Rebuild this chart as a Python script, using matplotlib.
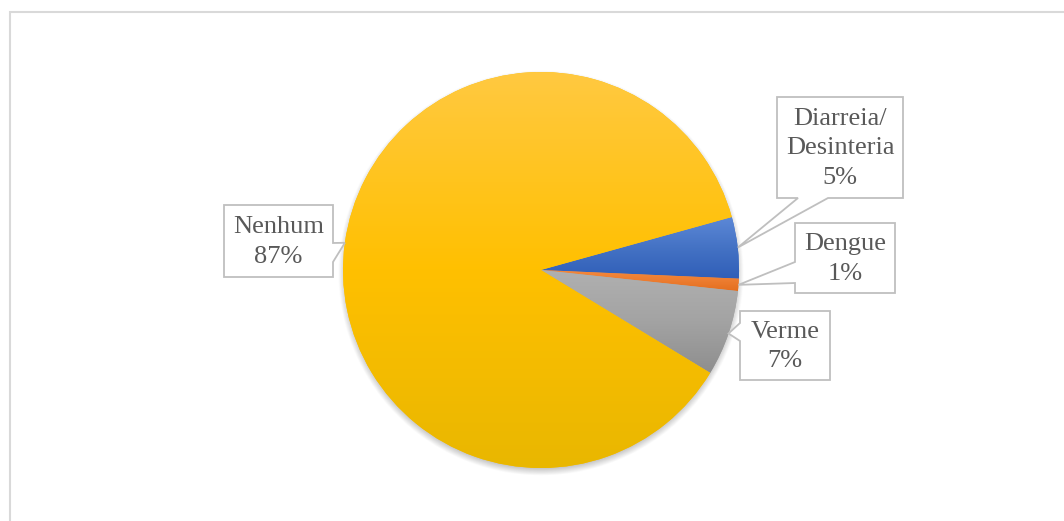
import numpy as np
import matplotlib
matplotlib.use("Agg")
import matplotlib.pyplot as plt
from matplotlib.patches import Polygon, Rectangle
from matplotlib.colors import to_rgb

# ---- data ----
categories = ["Diarreia/\nDesinteria", "Dengue", "Verme", "Nenhum"]
values = [5, 1, 7, 87]
pct_labels = ["5%", "1%", "7%", "87%"]

# ---- styling ----
colors_top = ["#5C88D7", "#F58A3C", "#B0B0B0", "#FFC941"]
colors_mid = ["#4472C4", "#ED7D31", "#A3A3A3", "#FFC000"]
colors_bot = ["#2F5EB8", "#E46F1F", "#8E8E8E", "#E9B700"]

W, H = 1064, 521
fig = plt.figure(figsize=(W / 100, H / 100), dpi=100)
ax = fig.add_axes([0, 0, 1, 1])

def iy(y):
    return H - y

cx, cy = 541, iy(270)
R = 198

# soft shadow
gx = np.linspace(cx - R - 20, cx + R + 20, 500)
gy = np.linspace(cy - R - 20, cy + R + 20, 500)
X, Y = np.meshgrid(gx, gy)
d = np.hypot(X - cx, Y - (cy - 3))
alpha = 0.42 * np.clip((R + 5 - d) / 9.0, 0, 1)
shadow = np.zeros((500, 500, 4))
shadow[..., :3] = 0.35
shadow[..., 3] = alpha
ax.imshow(shadow, extent=(gx[0], gx[-1], gy[0], gy[-1]), origin="lower",
          zorder=1, interpolation="bilinear")

wedges, _ = ax.pie(values, startangle=15.5, counterclock=False,
                   center=(cx, cy), radius=R, colors=colors_mid,
                   wedgeprops=dict(linewidth=0, edgecolor="none"), frame=True)
for w in wedges:
    w.set_zorder(2)

# gradient fill per slice
for w, ct, cm, cb in zip(wedges, colors_top, colors_mid, colors_bot):
    ext = w.get_path().get_extents()
    n = 256
    t = np.linspace(0, 1, n)  # 0 bottom -> 1 top
    c_b, c_m, c_t = np.array(to_rgb(cb)), np.array(to_rgb(cm)), np.array(to_rgb(ct))
    grad = np.where(t[:, None] < 0.5,
                    c_b + (c_m - c_b) * (t[:, None] / 0.5),
                    c_m + (c_t - c_m) * ((t[:, None] - 0.5) / 0.5))
    img = grad[:, None, :]
    im = ax.imshow(img, extent=(ext.x0, ext.x1, ext.y0, ext.y1), origin="lower",
                   aspect="auto", zorder=3, interpolation="bilinear")
    im.set_clip_path(w)

# ---- callout labels (layout) ----
boxes = [
    dict(box=(777, 97, 903, 198), side="bottom", base=(798, 828)),
    dict(box=(795, 223, 895, 293), side="left", base=(262, 283)),
    dict(box=(740, 311, 830, 380), side="left", base=(323, 341)),
    dict(box=(224, 205, 333, 277), side="right", base=(243, 262)),
]

edge_c = "#BFBFBF"
text_c = "#595959"

for w, cat, pct, b in zip(wedges, categories, pct_labels, boxes):
    th = np.deg2rad((w.theta1 + w.theta2) / 2)
    tip = (cx + R * np.cos(th), cy + R * np.sin(th))
    x0, y0, x1, y1 = b["box"]
    b0, b1 = b["base"]
    Y0, Y1 = iy(y0), iy(y1)
    if b["side"] == "bottom":
        pts = [(x0, Y0), (x1, Y0), (x1, Y1), (b1, Y1), tip, (b0, Y1), (x0, Y1)]
    elif b["side"] == "left":
        pts = [(x0, Y0), (x1, Y0), (x1, Y1), (x0, Y1), (x0, iy(b1)), tip, (x0, iy(b0))]
    else:
        pts = [(x0, Y0), (x1, Y0), (x1, iy(b0)), tip, (x1, iy(b1)), (x1, Y1), (x0, Y1)]
    ax.add_patch(Polygon(pts, closed=True, facecolor="white", edgecolor=edge_c,
                         linewidth=1.3, zorder=5, joinstyle="miter"))
    ax.text((x0 + x1) / 2, (Y0 + Y1) / 2 - 1, f"{cat}\n{pct}", ha="center", va="center",
            fontsize=19, color=text_c, family=["Liberation Serif", "DejaVu Serif"],
            linespacing=1.42, zorder=6)

# outer frame
ax.add_patch(Rectangle((9.5, -20), 1200, iy(11.5) + 20, fill=False,
                       edgecolor="#D9D9D9", linewidth=1.5, zorder=0))

ax.set_xlim(0, W)
ax.set_ylim(0, H)
ax.set_aspect("equal")
ax.axis("off")

fig.savefig("out.png", dpi=100, facecolor="white")
